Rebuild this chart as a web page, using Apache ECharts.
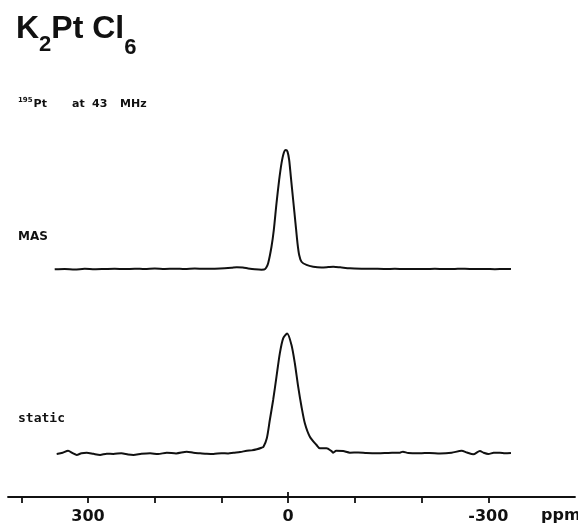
<!DOCTYPE html>
<html><head><meta charset="utf-8">
<script src="https://cdn.jsdelivr.net/npm/echarts@6/dist/echarts.min.js"></script>
<style>html,body{margin:0;padding:0;background:#fff}#c{width:578px;height:527px}</style>
</head><body><div id="c"></div>
<script>
// chemical shift (ppm) and relative intensity, MAS spectrum
const masPpm = [350,335,320,305,290,275,260,245,230,215,200,185,170,155,140,125,110,95,85,77,68,60,50,40,36,33,30,25,21.5,17.5,13.5,10,6.5,3.5,1,-1.5,-4,-7.5,-11,-14,-16.5,-20,-27.5,-37.5,-50,-60,-67.5,-78,-92.5,-110,-127.5,-145,-160,-175,-190,-205,-220,-235,-250,-265,-280,-295,-310,-325,-334];
const masInt = [-0.3,0,-0.5,0.2,-0.2,0,0.2,-0.1,0.3,0,0.4,0.1,0.3,0,0.4,0.2,0.3,0.6,1.0,1.5,1.2,0.5,-0.2,-0.6,-0.5,1,4.8,18.7,32.8,55.2,74.8,88.8,97.7,100,98.6,91.6,77.6,58,38.4,21.6,11.8,6.1,3.4,1.9,1.3,1.6,1.9,1.4,0.6,0.3,0.2,0,0.2,-0.1,0.1,0,0.2,-0.1,0.1,0.3,-0.1,0,-0.2,0,-0.1];
// static spectrum
const staticPpm = [347,338,330,323,317,310,302,292,282,272,262,250,240,232,220,207,195,182,168,152,142,132,122,112,100,90,82,72,62,55,47,40,37,32,27.5,22.5,17.5,12.5,7.5,1.5,-5,-10,-15,-20,-25,-32.5,-42.5,-47.5,-57.5,-65,-67.5,-72,-82.5,-92.5,-105,-117.5,-135,-150,-167.5,-172,-180,-197.5,-212,-227.5,-245,-260,-268,-277.5,-287.5,-293,-300,-308,-317.5,-325,-334];
const staticInt = [-0.4,0.6,2.3,0.3,-1.2,0.2,0.7,-0.3,-1.2,-0.2,-0.4,0.3,-0.8,-1.2,-0.3,0.2,-0.5,0.7,0.1,1.5,0.6,0.2,-0.2,-0.4,0.3,0.1,0.7,1.2,2.3,2.6,3.5,4.8,5.7,12.7,27.9,44.6,64,83.5,96,100,90.4,75.2,55.7,39,25.2,14,7.1,4.3,4.3,2.0,0.7,2.3,2.0,0.7,0.9,0.4,0.2,0.5,0.7,1.5,0.4,0.2,0.5,0,0.6,2.3,0.8,-0.7,2.1,0.6,-0.4,0.6,0.7,0.2,0.4];
const tickValues = [400,300,200,100,0,-100,-200,-300];
const labelValues = [300,0,-300];
const unitLabel = 'ppm';
const spectrumLabels = ['MAS','static'];

const chart = echarts.init(document.getElementById('c'), null, {renderer:'canvas'});
const pair = (xs, ys) => xs.map((x,i)=>[x, ys[i]]);
const X0 = -430, X1 = 420;
const lineStyle = {color:'#111', width:2};
const txt = '#111';
chart.setOption({
  animation:false,
  backgroundColor:'#fff',
  grid:[
    {left:8, right:3, top:150, height:130.9},
    {left:8, right:3, top:333.5, height:163.5}
  ],
  xAxis:[
    {gridIndex:0, type:'value', min:X0, max:X1, inverse:true, show:false},
    {gridIndex:1, type:'value', min:X0, max:X1, inverse:true, position:'bottom',
     axisLine:{show:true, onZero:false, lineStyle:{color:'#111', width:1.8}},
     axisTick:{show:true, length:6, lineStyle:{color:'#111', width:1.8}, customValues:tickValues},
     axisLabel:{show:true, customValues:labelValues, margin:12, color:txt,
       fontFamily:'DejaVu Sans', fontWeight:'bold', fontSize:16,
       formatter:v=>String(v)},
     splitLine:{show:false}},
    {gridIndex:1, type:'value', min:X0, max:X1, inverse:true, position:'bottom', offset:0,
     axisLine:{show:false, onZero:false},
     axisTick:{show:true, inside:true, length:5, lineStyle:{color:'#111', width:1.8}, customValues:[0]},
     axisLabel:{show:false}, splitLine:{show:false}}
  ],
  yAxis:[
    {gridIndex:0, type:'value', min:-10, max:100, show:false},
    {gridIndex:1, type:'value', min:-36.25, max:100, show:false}
  ],
  series:[
    {type:'line', xAxisIndex:0, yAxisIndex:0, data:pair(masPpm, masInt), showSymbol:false, smooth:0.25, lineStyle, clip:false},
    {type:'line', xAxisIndex:1, yAxisIndex:1, data:pair(staticPpm, staticInt), showSymbol:false, smooth:0.25, lineStyle, clip:false}
  ],
  graphic:[
    {type:'text', left:16, top:13, style:{
      text:'{m|K}{s|2}{m|Pt Cl}{t|6}', fill:txt,
      rich:{
        m:{fontFamily:'Liberation Sans', fontWeight:'bold', fontSize:32, lineHeight:32, verticalAlign:'top'},
        s:{fontFamily:'Liberation Sans', fontWeight:'bold', fontSize:22, lineHeight:22, verticalAlign:'top', padding:[21,0,0,0]},
        t:{fontFamily:'Liberation Sans', fontWeight:'bold', fontSize:22, lineHeight:22, verticalAlign:'top', padding:[24,0,0,0]}
      }}},
    {type:'text', left:18, top:97, style:{
      text:'{u|195}{w|Pt}', fill:txt,
      rich:{u:{fontFamily:'DejaVu Sans', fontWeight:'bold', fontSize:7, lineHeight:12, verticalAlign:'top', padding:[0,1,0,0]},
            w:{fontFamily:'DejaVu Sans', fontWeight:'bold', fontSize:11, lineHeight:12, verticalAlign:'top', padding:[2,0,0,0]}}}},
    {type:'text', left:72, top:99, style:{text:'at', fill:txt, font:'bold 11px "DejaVu Sans"'}},
    {type:'text', left:92, top:99, style:{text:'43', fill:txt, font:'bold 11px "DejaVu Sans"'}},
    {type:'text', left:120, top:99, style:{text:'MHz', fill:txt, font:'bold 11px "DejaVu Sans"'}},
    {type:'text', left:18, top:231, style:{text:spectrumLabels[0], fill:txt, font:'bold 12px "DejaVu Sans"'}},
    {type:'text', left:18, top:412, style:{text:spectrumLabels[1], fill:txt, font:'bold 13px "DejaVu Sans Mono"'}},
    {type:'text', left:541, top:508, style:{text:unitLabel, fill:txt, font:'bold 16px "DejaVu Sans"'}}
  ]
});
</script>
</body></html>
